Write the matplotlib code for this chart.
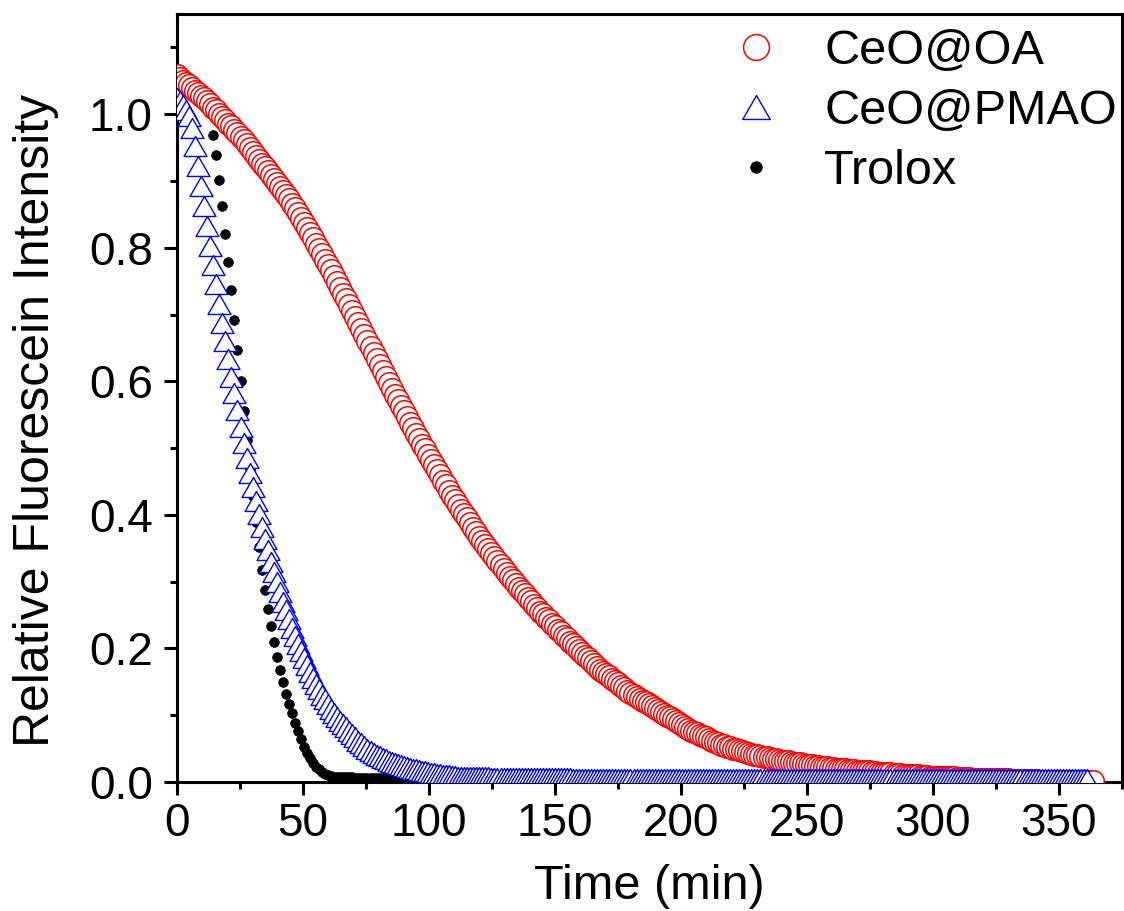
import numpy as np
import matplotlib
matplotlib.use('Agg')
from matplotlib import pyplot as plt
from matplotlib.path import Path

plt.rcParams['font.family'] = ['Liberation Sans', 'DejaVu Sans']

# plate reader interval, minutes
READ_INTERVAL = 1.2

labels = ['CeO@OA', 'CeO@PMAO', 'Trolox']

ceo_oa = [
    1.058, 1.054, 1.050, 1.047, 1.043, 1.039, 1.035, 1.031, 1.028, 1.024, 1.020,
    1.015, 1.010, 1.006, 1.001, 0.996, 0.991, 0.986, 0.982, 0.977, 0.972,
    0.966, 0.961, 0.955, 0.949, 0.944, 0.938, 0.932, 0.926, 0.921, 0.915,
    0.909, 0.903, 0.897, 0.891, 0.885, 0.879, 0.873, 0.866, 0.859, 0.852,
    0.845, 0.837, 0.830, 0.822, 0.814, 0.806, 0.798, 0.790, 0.782, 0.774,
    0.766, 0.758, 0.749, 0.740, 0.731, 0.723, 0.714, 0.705, 0.697, 0.688,
    0.679, 0.670, 0.661, 0.652, 0.643, 0.633, 0.624, 0.615, 0.606, 0.597,
    0.589, 0.580, 0.572, 0.563, 0.555, 0.547, 0.538, 0.530, 0.521, 0.513,
    0.505, 0.498, 0.490, 0.482, 0.475, 0.467, 0.459, 0.451, 0.444, 0.436,
    0.429, 0.422, 0.415, 0.408, 0.402, 0.395, 0.388, 0.381, 0.374, 0.367,
    0.361, 0.355, 0.349, 0.343, 0.337, 0.331, 0.325, 0.319, 0.313, 0.307,
    0.302, 0.297, 0.291, 0.286, 0.281, 0.276, 0.271, 0.265, 0.260, 0.255,
    0.251, 0.246, 0.242, 0.237, 0.233, 0.228, 0.224, 0.219, 0.215, 0.210,
    0.206, 0.202, 0.197, 0.193, 0.189, 0.185, 0.181, 0.176, 0.172, 0.168,
    0.165, 0.161, 0.158, 0.154, 0.151, 0.148, 0.144, 0.141, 0.137, 0.134,
    0.131, 0.128, 0.125, 0.122, 0.120, 0.117, 0.114, 0.111, 0.108, 0.105,
    0.102, 0.099, 0.097, 0.094, 0.091, 0.088, 0.085, 0.083, 0.080, 0.077,
    0.075, 0.073, 0.071, 0.069, 0.067, 0.064, 0.062, 0.060, 0.058, 0.056,
    0.055, 0.053, 0.052, 0.050, 0.049, 0.048, 0.046, 0.045, 0.043, 0.042,
    0.041, 0.040, 0.039, 0.038, 0.037, 0.036, 0.035, 0.034, 0.033, 0.032,
    0.031, 0.031, 0.030, 0.029, 0.029, 0.028, 0.027, 0.026, 0.026, 0.025,
    0.024, 0.024, 0.023, 0.023, 0.022, 0.021, 0.021, 0.020, 0.020, 0.019,
    0.019, 0.018, 0.018, 0.018, 0.017, 0.017, 0.016, 0.016, 0.016, 0.015,
    0.015, 0.014, 0.014, 0.014, 0.013, 0.013, 0.012, 0.012, 0.012, 0.011,
    0.011, 0.011, 0.010, 0.010, 0.010, 0.009, 0.009, 0.009, 0.008, 0.008,
    0.008, 0.008, 0.007, 0.007, 0.007, 0.007, 0.007, 0.006, 0.006, 0.006,
    0.006, 0.006, 0.005, 0.005, 0.005, 0.005, 0.005, 0.004, 0.004, 0.004,
    0.004, 0.004, 0.004, 0.004, 0.004, 0.003, 0.003, 0.003, 0.003, 0.003,
    0.003, 0.003, 0.003, 0.003, 0.002, 0.002, 0.002, 0.002, 0.002, 0.002,
    0.002, 0.002, 0.002, 0.002, 0.002, 0.001, 0.001, 0.001, 0.001, 0.001,
    0.001, 0.001, 0.001,
]

ceo_pmao = [
    1.025, 1.020, 1.014, 1.007, 0.998, 0.980, 0.953, 0.923, 0.893, 0.863, 0.833, 0.803, 0.774, 0.745, 0.716, 0.688,
    0.660, 0.633, 0.607, 0.582, 0.557, 0.532, 0.508, 0.485, 0.463, 0.442, 0.421, 0.401, 0.382, 0.364, 0.347, 0.330,
    0.314, 0.299, 0.284, 0.270, 0.257, 0.244, 0.231, 0.219, 0.207, 0.196, 0.185, 0.175, 0.165, 0.156, 0.147, 0.139,
    0.131, 0.124, 0.117, 0.110, 0.104, 0.098, 0.092, 0.087, 0.082, 0.077, 0.072, 0.068, 0.062, 0.058, 0.054, 0.050,
    0.047, 0.044, 0.041, 0.039, 0.036, 0.034, 0.032, 0.030, 0.028, 0.027, 0.025, 0.024, 0.022, 0.021, 0.020, 0.019,
    0.018, 0.017, 0.016, 0.015, 0.014, 0.013, 0.012, 0.012, 0.011, 0.010, 0.010, 0.009, 0.009, 0.008, 0.008, 0.008,
    0.007, 0.007, 0.007, 0.007, 0.007, 0.007, 0.007, 0.007, 0.006, 0.006, 0.006, 0.006, 0.006, 0.006, 0.006, 0.006,
    0.006, 0.006, 0.006, 0.006, 0.006, 0.006, 0.006, 0.006, 0.006, 0.006, 0.006, 0.006, 0.006, 0.006, 0.006, 0.006,
    0.006, 0.006, 0.006, 0.005, 0.005, 0.005, 0.005, 0.005, 0.005, 0.005, 0.005, 0.005, 0.005, 0.005, 0.005, 0.005,
    0.005, 0.005, 0.005, 0.005, 0.005, 0.005, 0.005, 0.005, 0.005, 0.005, 0.005, 0.005, 0.005, 0.005, 0.005, 0.005,
    0.005, 0.005, 0.005, 0.005, 0.005, 0.005, 0.005, 0.005, 0.005, 0.005, 0.005, 0.005, 0.005, 0.005, 0.005, 0.005,
    0.005, 0.005, 0.005, 0.005, 0.005, 0.005, 0.005, 0.005, 0.005, 0.005, 0.005, 0.005, 0.005, 0.005, 0.005, 0.005,
    0.005, 0.005, 0.005, 0.005, 0.005, 0.005, 0.005, 0.005, 0.005, 0.005, 0.005, 0.005, 0.005, 0.005, 0.005, 0.005,
    0.005, 0.005, 0.005, 0.005, 0.005, 0.005, 0.005, 0.005, 0.005, 0.005, 0.005, 0.005, 0.005, 0.005, 0.005, 0.005,
    0.005, 0.005, 0.005, 0.005, 0.005, 0.005, 0.005, 0.005, 0.005, 0.005, 0.005, 0.005, 0.005, 0.005, 0.005, 0.005,
    0.005, 0.005, 0.005, 0.005, 0.005, 0.005, 0.005, 0.005, 0.005, 0.005, 0.005, 0.005, 0.005, 0.005, 0.005, 0.005,
    0.005, 0.005, 0.005, 0.005, 0.005, 0.005, 0.005, 0.005, 0.005, 0.005, 0.005, 0.005, 0.005, 0.005, 0.005, 0.005,
    0.005, 0.005, 0.005, 0.005, 0.005, 0.005, 0.005, 0.005, 0.005, 0.005, 0.005, 0.005, 0.005, 0.005, 0.005, 0.005,
    0.005, 0.005, 0.005, 0.005, 0.005, 0.005, 0.005, 0.005, 0.005, 0.005, 0.005, 0.005, 0.005, 0.005,
]

# first readings sit just under the CeO@OA symbols
trolox = [
    1.050, 1.048, 1.046, 1.043, 1.040, 1.036, 1.032, 1.028, 1.024, 1.020, 1.014, 1.005, 0.969, 0.939, 0.901, 0.862,
    0.821, 0.779, 0.736, 0.692, 0.647, 0.601, 0.556, 0.512, 0.469, 0.428, 0.389, 0.352, 0.318, 0.287, 0.259, 0.233,
    0.209, 0.187, 0.167, 0.149, 0.132, 0.117, 0.103, 0.089, 0.076, 0.064, 0.053, 0.044, 0.036, 0.029, 0.023, 0.019,
    0.015, 0.012, 0.010, 0.009, 0.008, 0.008, 0.007, 0.007, 0.007, 0.007, 0.007, 0.006, 0.006, 0.006, 0.006, 0.006,
    0.006, 0.006, 0.006, 0.006, 0.006, 0.006, 0.006, 0.006, 0.006, 0.006, 0.006, 0.006, 0.006, 0.006, 0.006, 0.006,
]


def read_times(values):
    return np.arange(len(values)) * READ_INTERVAL


# slightly flattened up-triangle, like the Origin symbol
tri = Path([(0, 0.87), (-1, -0.87), (1, -0.87), (0, 0.87)], closed=True)

fig = plt.figure(figsize=(11.24, 9.11), dpi=100)
ax = fig.add_axes([0.1575, 0.1416, 0.8405, 0.843])

ax.plot(read_times(trolox), trolox, linestyle='none', marker='o', ms=7,
        mfc='k', mec='k', mew=0.5, label=labels[2], zorder=3)
ax.plot(read_times(ceo_oa), ceo_oa, linestyle='none', marker='o', ms=15.5,
        mfc='white', mec='red', mew=1.1, label=labels[0], zorder=4)
ax.plot(read_times(ceo_pmao), ceo_pmao, linestyle='none', marker=tri, ms=16.5,
        mfc='white', mec='blue', mew=1.0, label=labels[1], zorder=5)

ax.set_xlim(0, 375)
ax.set_ylim(0, 1.15)
ax.set_xticks(np.arange(0, 351, 50))
ax.set_xticks(np.arange(25, 376, 50), minor=True)
ax.set_yticks(np.arange(0, 1.01, 0.2))
ax.set_yticks(np.arange(0.1, 1.11, 0.2), minor=True)
ax.yaxis.set_major_formatter(matplotlib.ticker.FormatStrFormatter('%.1f'))

for side in ['left', 'right', 'top', 'bottom']:
    ax.spines[side].set_linewidth(2.2)
ax.tick_params(which='major', direction='out', length=9.5, width=2.2, labelsize=33)
ax.tick_params(which='minor', direction='out', length=5, width=2.2)
ax.tick_params(axis='y', pad=8)
ax.tick_params(axis='x', pad=5)

ax.set_xlabel('Time (min)', fontsize=35)
ax.set_ylabel('Relative Fluorescein Intensity', fontsize=36)
ax.xaxis.set_label_coords(0.5, -0.107)
ax.yaxis.set_label_coords(-0.125, 0.471)

handles, hl = ax.get_legend_handles_labels()
order = [hl.index(l) for l in labels]
ax.legend([handles[i] for i in order], [hl[i] for i in order],
          loc='upper right', bbox_to_anchor=(0.995, 0.98), frameon=False,
          fontsize=35, markerscale=1.2, handlelength=1.0, handletextpad=0.9,
          labelspacing=0.3, borderaxespad=0, borderpad=0)

fig.savefig('out.png', dpi=100)
